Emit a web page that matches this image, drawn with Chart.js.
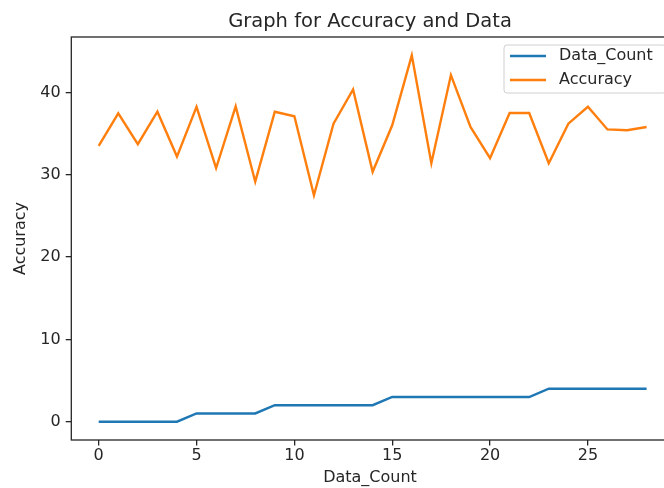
<!DOCTYPE html>
<html>
<head>
<meta charset="utf-8">
<script src="https://cdn.jsdelivr.net/npm/chart.js@4.4.1/dist/chart.umd.min.js"></script>
<style>
  html, body { margin: 0; padding: 0; background: #fff; overflow: hidden; }
  #wrap { width: 664px; height: 488px; overflow: hidden; }
  canvas { display: block; }
</style>
</head>
<body>
<div id="wrap"><canvas id="c" width="700" height="488"></canvas></div>
<script>
// Sample index along the x axis
const steps = [0,1,2,3,4,5,6,7,8,9,10,11,12,13,14,15,16,17,18,19,20,21,22,23,24,25,26,27,28];
// Running data count per step
const dataCount = [0,0,0,0,0,1,1,1,1,2,2,2,2,2,2,3,3,3,3,3,3,3,3,4,4,4,4,4,4];
// Accuracy per step
const accuracy = [33.5,37.45,33.7,37.65,32.2,38.25,30.8,38.3,29.15,37.65,37.1,27.5,36.2,40.35,30.35,
                  36.0,44.5,31.4,42.1,35.8,32.0,37.5,37.5,31.4,36.2,38.25,35.5,35.4,35.8];
const xTicks = [0,5,10,15,20,25];
const yTicks = [0,10,20,30,40];

const titleText = 'Graph for Accuracy and Data';
const xTitle = 'Data_Count';
const yTitle = 'Accuracy';

const FONT = '"DejaVu Sans", sans-serif';
const INK = '#262626';

const decor = {
  id: 'decor',
  afterDraw(chart) {
    const ctx = chart.ctx;
    const a = chart.chartArea;
    ctx.save();
    // axes frame
    ctx.strokeStyle = INK;
    ctx.lineWidth = 1.3;
    ctx.strokeRect(a.left, a.top, a.right - a.left, a.bottom - a.top);

    // title
    ctx.fillStyle = INK;
    ctx.textAlign = 'center';
    ctx.textBaseline = 'alphabetic';
    ctx.font = '19.5px ' + FONT;
    ctx.fillText(titleText, 370, 27);

    // axis titles
    ctx.textBaseline = 'middle';
    ctx.font = '16px ' + FONT;
    ctx.fillText(xTitle, 370, 478);
    ctx.save();
    ctx.translate(21, (a.top + a.bottom) / 2);
    ctx.rotate(-Math.PI / 2);
    ctx.fillText(yTitle, 0, 0);
    ctx.restore();

    // legend (upper right)
    const bw = 162, bh = 48;
    const bx = a.right - 8 - bw, by = a.top + 8;
    ctx.fillStyle = 'rgba(255,255,255,0.85)';
    ctx.strokeStyle = '#d0d0d0';
    ctx.lineWidth = 1;
    ctx.beginPath();
    ctx.roundRect(bx, by, bw, bh, 3);
    ctx.fill();
    ctx.stroke();
    ctx.textAlign = 'left';
    ctx.font = '16px ' + FONT;
    chart.data.datasets.forEach((ds, i) => {
      const y = by + 11 + i * 24;
      ctx.strokeStyle = ds.borderColor;
      ctx.lineWidth = 2.4;
      ctx.beginPath();
      ctx.moveTo(bx + 6, y);
      ctx.lineTo(bx + 42, y);
      ctx.stroke();
      ctx.fillStyle = INK;
      ctx.fillText(ds.label, bx + 55, y);
    });
    ctx.restore();
  }
};

new Chart(document.getElementById('c'), {
  type: 'line',
  data: {
    datasets: [
      {
        label: 'Data_Count',
        data: steps.map((s, i) => ({ x: s, y: dataCount[i] })),
        borderColor: '#1f77b4',
        borderWidth: 2.4,
        pointRadius: 0,
        tension: 0,
        fill: false
      },
      {
        label: 'Accuracy',
        data: steps.map((s, i) => ({ x: s, y: accuracy[i] })),
        borderColor: '#ff7f0e',
        borderWidth: 2.4,
        pointRadius: 0,
        tension: 0,
        fill: false
      }
    ]
  },
  options: {
    responsive: false,
    animation: false,
    layout: { padding: { left: 0, right: 26, top: 37, bottom: 0 } },
    plugins: {
      legend: { display: false },
      title: { display: false },
      tooltip: { enabled: false }
    },
    scales: {
      x: {
        type: 'linear',
        min: -1.4,
        max: 29.4,
        afterBuildTicks: s => { s.ticks = xTicks.map(v => ({ value: v })); },
        afterFit: s => { s.height = 48; },
        border: { display: false },
        grid: { drawOnChartArea: false, drawTicks: true, tickLength: 5.6, color: INK, lineWidth: 1.3 },
        ticks: { color: INK, font: { family: FONT, size: 16 }, padding: 1, maxRotation: 0 }
      },
      y: {
        type: 'linear',
        min: -2.225,
        max: 46.725,
        afterBuildTicks: s => { s.ticks = yTicks.map(v => ({ value: v })); },
        afterFit: s => { s.width = 71.3; },
        border: { display: false },
        grid: { drawOnChartArea: false, drawTicks: true, tickLength: 5.6, color: INK, lineWidth: 1.3 },
        ticks: { color: INK, font: { family: FONT, size: 16 }, padding: 5 }
      }
    }
  },
  plugins: [decor]
});
</script>
</body>
</html>
